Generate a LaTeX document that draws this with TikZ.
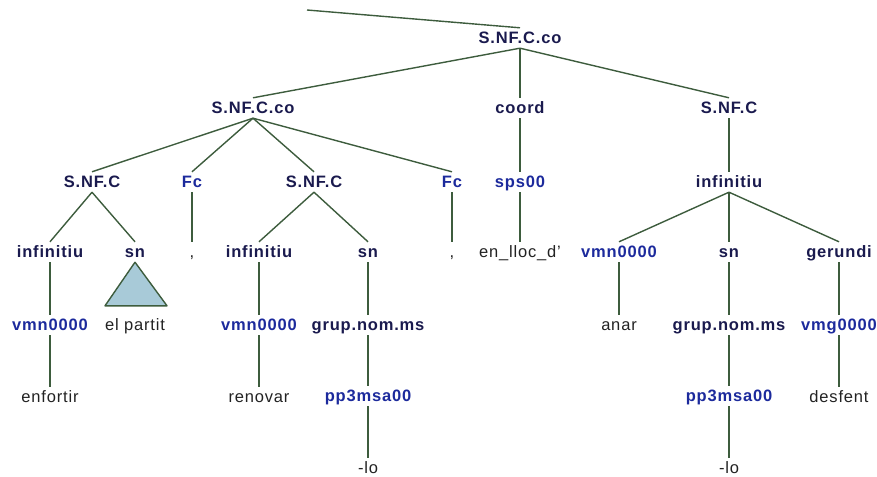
\documentclass[tikz,border=0pt]{standalone}
\usepackage{fontspec}
\setmainfont{Liberation Sans}[LetterSpace=5]
\definecolor{catcol}{HTML}{1A1A4E}
\definecolor{poscol}{HTML}{1C2A9C}
\definecolor{wordcol}{HTML}{222222}
\definecolor{edgecol}{HTML}{3D5C3D}
\definecolor{trifill}{HTML}{A8CAD8}
\begin{document}
\begin{tikzpicture}[x=1pt,y=-1pt,
  basenode/.style={inner sep=0pt,minimum height=20pt,text height=13pt,text depth=2pt,font=\fontsize{16.5}{18}\selectfont},
  catnode/.style={basenode,font=\fontsize{16.5}{18}\selectfont\bfseries,text=catcol},
  tagnode/.style={basenode,font=\fontsize{16.5}{18}\selectfont\bfseries,text=poscol},
  wordnode/.style={basenode,text=wordcol},
  treeline/.style={draw=edgecol,line width=1.4pt},
  trishape/.style={draw=edgecol,fill=trifill,line width=1.4pt,line join=round}]
\useasboundingbox (0,0) rectangle (877,476);
% nodes
\node[catnode] (root) at (520,38) {S.NF.C.co};
\coordinate (top) at (307,10);
\node[catnode] (A) at (253,108) {S.NF.C.co};
\node[catnode] (coord) at (520,108) {coord};
\node[catnode] (B) at (729,108) {S.NF.C};
\node[catnode] (A1) at (92,182) {S.NF.C};
\node[tagnode] (Fc1) at (192,182) {Fc};
\node[catnode] (A2) at (314,182) {S.NF.C};
\node[tagnode] (Fc2) at (452,182) {Fc};
\node[tagnode] (sps) at (520,182) {sps00};
\node[catnode] (Binf) at (729,182) {infinitiu};
\node[catnode] (inf1) at (50,252) {infinitiu};
\node[catnode] (sn1) at (135,252) {sn};
\node[wordnode] (c1) at (192,252) {,};
\node[catnode] (inf2) at (259,252) {infinitiu};
\node[catnode] (sn2) at (368,252) {sn};
\node[wordnode] (c2) at (452,252) {,};
\node[wordnode] (enlloc) at (520,252) {en\_lloc\_d’};
\node[tagnode] (vmn3) at (619,252) {vmn0000};
\node[catnode] (sn3) at (729,252) {sn};
\node[catnode] (ger) at (839,252) {gerundi};
\node[tagnode] (vmn1) at (50,325) {vmn0000};
\node[wordnode] (elp) at (135,325) {el partit};
\node[tagnode] (vmn2) at (259,325) {vmn0000};
\node[catnode] (grup1) at (368,325) {grup.nom.ms};
\node[wordnode] (anar) at (619,325) {anar};
\node[catnode] (grup2) at (729,325) {grup.nom.ms};
\node[tagnode] (vmg) at (839,325) {vmg0000};
\node[wordnode] (enf) at (50,397) {enfortir};
\node[wordnode] (ren) at (259,397) {renovar};
\node[tagnode] (pp1) at (368,396) {pp3msa00};
\node[tagnode] (pp2) at (729,396) {pp3msa00};
\node[wordnode] (desf) at (839,397) {desfent};
\node[wordnode] (lo1) at (368,468) {-lo};
\node[wordnode] (lo2) at (729,468) {-lo};
% edges
\draw[treeline] (top) -- (root.north);
\foreach \c in {A,coord,B} \draw[treeline] (root.south) -- (\c.north);
\foreach \c in {A1,Fc1,A2,Fc2} \draw[treeline] (A.south) -- (\c.north);
\draw[treeline] (coord.south) -- (sps.north);
\draw[treeline] (B.south) -- (Binf.north);
\draw[treeline] (A1.south) -- (inf1.north);
\draw[treeline] (A1.south) -- (sn1.north);
\draw[treeline] (Fc1.south) -- (c1.north);
\draw[treeline] (A2.south) -- (inf2.north);
\draw[treeline] (A2.south) -- (sn2.north);
\draw[treeline] (Fc2.south) -- (c2.north);
\draw[treeline] (sps.south) -- (enlloc.north);
\foreach \c in {vmn3,sn3,ger} \draw[treeline] (Binf.south) -- (\c.north);
\draw[treeline] (inf1.south) -- (vmn1.north);
\draw[trishape] (sn1.south) -- ([xshift=-30pt,yshift=9pt]elp.north) -- ([xshift=32pt,yshift=9pt]elp.north) -- cycle;
\draw[treeline] (inf2.south) -- (vmn2.north);
\draw[treeline] (sn2.south) -- (grup1.north);
\draw[treeline] (vmn3.south) -- (anar.north);
\draw[treeline] (sn3.south) -- (grup2.north);
\draw[treeline] (ger.south) -- (vmg.north);
\draw[treeline] (vmn1.south) -- (enf.north);
\draw[treeline] (vmn2.south) -- (ren.north);
\draw[treeline] (grup1.south) -- (pp1.north);
\draw[treeline] (grup2.south) -- (pp2.north);
\draw[treeline] (vmg.south) -- (desf.north);
\draw[treeline] (pp1.south) -- (lo1.north);
\draw[treeline] (pp2.south) -- (lo2.north);
\end{tikzpicture}
\end{document}
